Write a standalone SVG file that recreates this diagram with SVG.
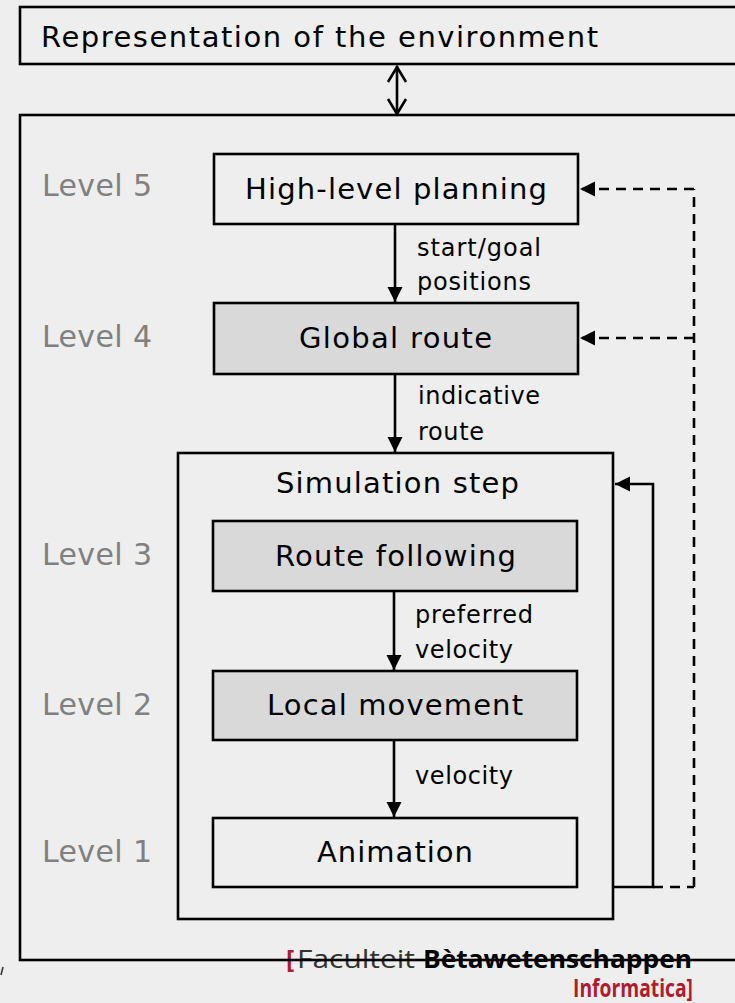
<svg xmlns="http://www.w3.org/2000/svg" width="735" height="1003" viewBox="0 0 735 1003">
<style>
.box{fill:#eeeeee;stroke:#000;stroke-width:2.6}
.frame{fill:none;stroke:#000;stroke-width:2.6}
.grey{fill:#d9d9d9;stroke:#000;stroke-width:2.6}
.t{font-family:"DejaVu Sans",Verdana,sans-serif;font-size:29px;fill:#000}
.lvl{font-family:"DejaVu Sans",Verdana,sans-serif;font-size:30px;fill:#808080}
.lbl{font-family:"DejaVu Sans",Verdana,sans-serif;font-size:24px;fill:#000}
.ft{font-family:"Open Sans","Liberation Sans",Arial,sans-serif;font-size:25px}
.c{fill:none;stroke:#000;stroke-width:2.6}
.d{fill:none;stroke:#000;stroke-width:2.6;stroke-dasharray:10 7}
</style>
<defs>
<marker id="ah" markerUnits="userSpaceOnUse" markerWidth="16" markerHeight="16" refX="15" refY="7.5" orient="auto">
<path d="M0,0 L15,7.5 L0,15 z" fill="#000" stroke="none"/>
</marker>
</defs>
<rect x="0" y="0" width="735" height="1003" fill="#eeeeee"/>

<g id="footer">
<text class="ft" x="286" y="968" fill="#b01c2e" font-weight="bold">[</text>
<text class="ft" x="297" y="968" fill="#333" textLength="118" lengthAdjust="spacingAndGlyphs">Faculteit</text>
<text class="ft" x="423" y="968" fill="#000" font-weight="bold" textLength="269" lengthAdjust="spacingAndGlyphs">Bètawetenschappen</text>
<text class="ft" x="573" y="997" fill="#b01c2e" font-weight="bold" textLength="120" lengthAdjust="spacingAndGlyphs">Informatica]</text>
</g>

<g id="environment">
<rect class="frame" x="20" y="7" width="730" height="57"/>
<text class="t" x="41" y="47" textLength="557" lengthAdjust="spacing">Representation of the environment</text>
</g>

<g id="system">
<rect class="frame" x="20" y="115" width="730" height="845"/>
</g>

<g id="levels">
<text class="lvl" x="42" y="196" textLength="110" lengthAdjust="spacing">Level 5</text>
<text class="lvl" x="42" y="347" textLength="110" lengthAdjust="spacing">Level 4</text>
<text class="lvl" x="42" y="565" textLength="110" lengthAdjust="spacing">Level 3</text>
<text class="lvl" x="42" y="715" textLength="110" lengthAdjust="spacing">Level 2</text>
<text class="lvl" x="42" y="862" textLength="110" lengthAdjust="spacing">Level 1</text>
</g>

<g id="high-level-planning">
<rect class="box" x="214" y="154" width="364" height="70"/>
<text class="t" x="245" y="199" textLength="302" lengthAdjust="spacing">High-level planning</text>
</g>

<g id="global-route">
<rect class="grey" x="214" y="303" width="364" height="71"/>
<text class="t" x="299" y="348" textLength="193" lengthAdjust="spacing">Global route</text>
</g>

<g id="simulation-step">
<rect class="frame" x="178" y="453" width="435" height="466"/>
<text class="t" x="276" y="493" textLength="243" lengthAdjust="spacing">Simulation step</text>
</g>

<g id="route-following">
<rect class="grey" x="213" y="521" width="364" height="70"/>
<text class="t" x="275" y="566" textLength="241" lengthAdjust="spacing">Route following</text>
</g>

<g id="local-movement">
<rect class="grey" x="213" y="671" width="364" height="69"/>
<text class="t" x="267" y="715" textLength="256" lengthAdjust="spacing">Local movement</text>
</g>

<g id="animation">
<rect class="box" x="213" y="818" width="364" height="69"/>
<text class="t" x="317" y="862" textLength="156" lengthAdjust="spacing">Animation</text>
</g>

<g id="connectors">
<line class="c" x1="397" y1="66" x2="397" y2="114"/>
<polyline class="c" points="388,82 397,67 406,82"/>
<polyline class="c" points="388,99 397,114 406,99"/>

<line class="c" x1="395" y1="224" x2="395" y2="302" marker-end="url(#ah)"/>
<text class="lbl" x="417" y="256" textLength="124" lengthAdjust="spacing">start/goal</text>
<text class="lbl" x="417" y="290" textLength="114" lengthAdjust="spacing">positions</text>

<line class="c" x1="395" y1="374" x2="395" y2="452" marker-end="url(#ah)"/>
<text class="lbl" x="418" y="404" textLength="122" lengthAdjust="spacing">indicative</text>
<text class="lbl" x="418" y="440" textLength="66" lengthAdjust="spacing">route</text>

<line class="c" x1="394" y1="591" x2="394" y2="670" marker-end="url(#ah)"/>
<text class="lbl" x="415" y="623" textLength="118" lengthAdjust="spacing">preferred</text>
<text class="lbl" x="415" y="658" textLength="98" lengthAdjust="spacing">velocity</text>

<line class="c" x1="394" y1="740" x2="394" y2="817" marker-end="url(#ah)"/>
<text class="lbl" x="415" y="784" textLength="98" lengthAdjust="spacing">velocity</text>

<polyline class="c" points="612,887 653,887 653,484 615,484" marker-end="url(#ah)"/>

<line class="d" x1="653" y1="887" x2="694" y2="887"/>
<line class="d" x1="694" y1="887" x2="694" y2="189"/>
<line class="d" x1="694" y1="189" x2="580" y2="189" marker-end="url(#ah)"/>
<line class="d" x1="694" y1="338" x2="580" y2="338" marker-end="url(#ah)"/>
</g>

<line x1="3" y1="967" x2="1" y2="975" stroke="#333" stroke-width="1.5"/>
</svg>
